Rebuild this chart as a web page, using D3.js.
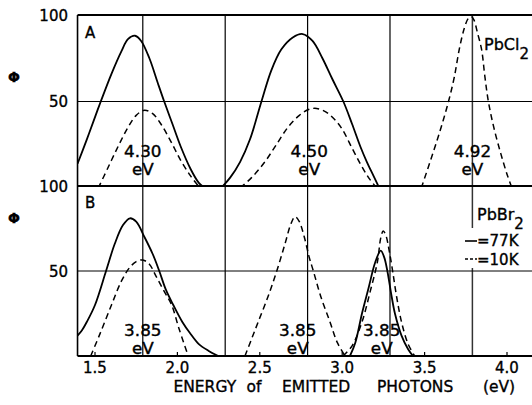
<!DOCTYPE html>
<html><head><meta charset="utf-8">
<script src="https://cdn.jsdelivr.net/npm/d3@7"></script>
<style>body{margin:0;background:#fff}svg{display:block}text{font-family:"DejaVu Sans",sans-serif;fill:#000;stroke:#000;stroke-width:0.35px}</style>
</head><body><svg id="c" width="532" height="405"></svg>
<script>
// ---- data ----
const xTicks = [1.5, 2.0, 2.5, 3.0, 3.5, 4.0];
const xTickLabels = ["1.5", "2.0", "2.5", "3.0", "3.5", "4.0"];
const yTicks = [50, 100];
const gridEnergies = [1.79, 2.29, 2.79, 3.29, 3.79];
const xDomain = [1.394, 4.152];

// Panel A (PbCl2)
const a1Solid = [[1.394,14],[1.45,28],[1.50,41],[1.535,50],[1.60,66],[1.66,79],[1.70,86],[1.743,88],[1.78,85],[1.83,75],[1.88,61],[1.92,50],[1.97,37],[2.02,24],[2.08,11],[2.13,3],[2.167,0]];
const a1Dashed = [[1.52,0],[1.58,12],[1.64,24],[1.70,35],[1.75,42],[1.80,45],[1.85,43],[1.90,37],[1.96,27],[2.02,16],[2.08,7],[2.137,0]];
const a2Solid = [[2.265,0],[2.32,6],[2.38,15],[2.44,28],[2.51,50],[2.57,68],[2.63,80],[2.70,87],[2.76,89],[2.82,85],[2.88,75],[2.94,63],[3.007,50],[3.06,37],[3.11,24],[3.15,15],[3.19,7],[3.225,0]];
const a2Dashed = [[2.38,0],[2.45,6],[2.53,15],[2.60,25],[2.67,35],[2.74,42],[2.80,45.5],[2.845,46],[2.90,44],[2.95,40],[3.00,34],[3.06,23],[3.11,14],[3.16,6],[3.21,0]];
const a3Dashed = [[3.48,0],[3.55,20],[3.60,35],[3.645,50],[3.68,64],[3.71,80],[3.74,92],[3.765,98],[3.785,99],[3.80,97],[3.82,90],[3.846,80],[3.865,65],[3.887,50],[3.92,35],[3.962,20],[4.00,8],[4.03,0]];

// Panel B (PbBr2)
const b1Solid = [[1.394,12],[1.42,15],[1.45,20],[1.50,30],[1.567,50],[1.62,66],[1.67,77],[1.712,81],[1.75,79],[1.80,70],[1.85,60],[1.89,50],[1.93,39],[1.975,30],[2.03,20],[2.076,13.5],[2.13,7],[2.19,3],[2.248,0]];
const b1Dashed = [[1.474,0],[1.53,13],[1.60,30],[1.66,44],[1.71,52],[1.75,55.5],[1.79,56.5],[1.83,54],[1.87,47],[1.92,38],[1.965,30],[2.01,16],[2.066,0]];
const b2Dashed = [[2.41,0],[2.45,10],[2.49,20],[2.55,35],[2.603,50],[2.65,65],[2.69,78],[2.714,82],[2.74,79],[2.77,70],[2.80,58],[2.825,50],[2.87,35],[2.926,20],[2.97,8],[3.017,0]];
const b3Solid = [[3.047,0],[3.08,8],[3.12,25],[3.16,40],[3.20,55],[3.234,62],[3.255,58],[3.274,50],[3.30,35],[3.32,25],[3.36,12],[3.40,4],[3.43,0]];
const b3Dashed = [[3.005,0],[3.06,6],[3.12,20],[3.17,38],[3.213,55],[3.235,70],[3.249,73.5],[3.265,71],[3.285,62],[3.306,50],[3.33,35],[3.36,20],[3.40,7],[3.44,0]];

const labelsA = [[1.79,"4.30"],[2.80,"4.50"],[3.79,"4.92"]];
const labelsB = [[1.79,"3.85"],[2.73,"3.85"],[3.24,"3.85"]];
const titleWords = ["ENERGY","of","EMITTED","PHOTONS","(eV)"];
const titleWordStart = [1.976, 2.42, 2.635, 3.211, 3.854];

// ---- drawing ----
const svg = d3.select("#c");
const x = d3.scaleLinear().domain([1.5, 4.0]).range([95, 507]);
const yA = d3.scaleLinear().domain([0, 100]).range([188, 15]);
const yB = d3.scaleLinear().domain([0, 100]).range([356, 186]);
const X0 = x(xDomain[0]), X1 = x(xDomain[1]);
const topA = 15, botA = 186, botB = 356;

const defs = svg.append("defs");
defs.append("clipPath").attr("id","clipA").append("rect").attr("x",X0).attr("y",topA).attr("width",X1-X0).attr("height",botA-topA);
defs.append("clipPath").attr("id","clipB").append("rect").attr("x",X0).attr("y",botA).attr("width",X1-X0).attr("height",botB-botA);

// grid: vertical lines
gridEnergies.forEach((e,i) => {
  const gx = x(e);
  if (i === 4) {
    svg.append("line").attr("x1",gx).attr("x2",gx).attr("y1",topA).attr("y2",botA).attr("stroke","#333").attr("stroke-width",1.5);
    svg.append("line").attr("x1",gx).attr("x2",gx).attr("y1",botA).attr("y2",228).attr("stroke","#333").attr("stroke-width",1.5);
    svg.append("line").attr("x1",gx).attr("x2",gx).attr("y1",268).attr("y2",botB).attr("stroke","#333").attr("stroke-width",1.5);
  } else {
    svg.append("line").attr("x1",gx).attr("x2",gx).attr("y1",topA).attr("y2",botB).attr("stroke","#000").attr("stroke-width",1.2);
  }
});
// 50 lines
svg.append("line").attr("x1",X0).attr("x2",X1).attr("y1",yA(50)).attr("y2",yA(50)).attr("stroke","#000").attr("stroke-width",1);
svg.append("line").attr("x1",X0).attr("x2",X1).attr("y1",yB(50)).attr("y2",yB(50)).attr("stroke","#000").attr("stroke-width",1);
// frame lines
[topA, botA, botB].forEach(yy => svg.append("line").attr("x1",X0).attr("x2",X1).attr("y1",yy).attr("y2",yy).attr("stroke","#000").attr("stroke-width",2));
svg.append("line").attr("x1",X0).attr("x2",X0).attr("y1",topA).attr("y2",botB).attr("stroke","#000").attr("stroke-width",1.6);

// x ticks (inward)
xTicks.forEach(t => svg.append("line").attr("x1",x(t)).attr("x2",x(t)).attr("y1",botB).attr("y2",botB-4).attr("stroke","#000").attr("stroke-width",1.2));
svg.selectAll(".xt").data(xTicks).enter().append("text")
  .attr("x",d=>x(d)).attr("y",373).attr("text-anchor","middle").attr("font-size",15)
  .text((d,i)=>xTickLabels[i]);

// y tick labels
yTicks.forEach(t => {
  svg.append("text").attr("x",68).attr("y",yA(t)+5.5).attr("text-anchor","end").attr("font-size",15).text(t);
  svg.append("text").attr("x",68).attr("y",yB(t)+5.5).attr("text-anchor","end").attr("font-size",15).text(t);
});
// Phi labels
[77, 218].forEach(cy => svg.append("text").attr("x",14).attr("y",cy+5).attr("text-anchor","middle")
  .attr("font-size",14).attr("font-weight","bold").attr("font-family","DejaVu Serif").text("Φ"));

// curves
function drawCurve(data, yS, clip, dashed) {
  const line = d3.line().x(d=>x(d[0])).y(d=>yS(d[1])).curve(d3.curveCatmullRom.alpha(0.5));
  svg.append("path").datum(data).attr("d",line).attr("fill","none").attr("stroke","#000")
    .attr("stroke-width", dashed ? 1.5 : 1.8)
    .attr("stroke-dasharray", dashed ? "6,4" : null)
    .attr("clip-path",`url(#${clip})`);
}
drawCurve(a1Solid, yA, "clipA", false);
drawCurve(a1Dashed, yA, "clipA", true);
drawCurve(a2Solid, yA, "clipA", false);
drawCurve(a2Dashed, yA, "clipA", true);
drawCurve(a3Dashed, yA, "clipA", true);
drawCurve(b1Solid, yB, "clipB", false);
drawCurve(b1Dashed, yB, "clipB", true);
drawCurve(b2Dashed, yB, "clipB", true);
drawCurve(b3Solid, yB, "clipB", false);
drawCurve(b3Dashed, yB, "clipB", true);

// peak labels (glyphs widened horizontally)
function peakLabel(e, t, y1, y2) {
  const g = svg.append("g").attr("transform",`translate(${x(e)},0) scale(1.12,1)`);
  g.append("text").attr("x",0).attr("y",y1).attr("text-anchor","middle").attr("font-size",15).text(t);
  g.append("text").attr("x",0).attr("y",y2).attr("text-anchor","middle").attr("font-size",15).text("eV");
}
labelsA.forEach(d => peakLabel(d[0], d[1], 157, 175));
labelsB.forEach(d => peakLabel(d[0], d[1], 336, 354));

// panel letters
svg.append("text").attr("x",85).attr("y",38).attr("font-size",15).text("A");
svg.append("text").attr("x",85).attr("y",208).attr("font-size",15).text("B");

// compound names
const pc = svg.append("text").attr("x",484).attr("y",50).attr("font-size",16);
pc.append("tspan").text("PbCl");
pc.append("tspan").attr("font-size",15).attr("dy",9).text("2");
const pb = svg.append("text").attr("x",477).attr("y",220).attr("font-size",16);
pb.append("tspan").text("PbBr");
pb.append("tspan").attr("font-size",15).attr("dy",9).text("2");

// legend
svg.append("line").attr("x1",465).attr("x2",477).attr("y1",241).attr("y2",241).attr("stroke","#000").attr("stroke-width",1.6);
svg.append("text").attr("x",477).attr("y",246).attr("font-size",15).text("=77K");
svg.append("line").attr("x1",465).attr("x2",477).attr("y1",259).attr("y2",259).attr("stroke","#000").attr("stroke-width",1.4).attr("stroke-dasharray","3,2");
svg.append("text").attr("x",477).attr("y",265).attr("font-size",15).text("=10K");

// axis title
titleWords.forEach((w,i) => {
  svg.append("text").attr("x",x(titleWordStart[i])).attr("y",392).attr("font-size",15.5).text(w);
});
</script></body></html>
